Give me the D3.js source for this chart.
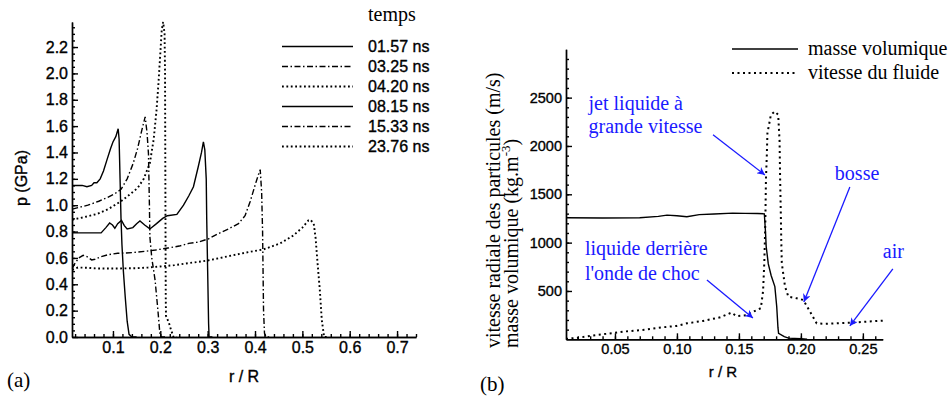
<!DOCTYPE html>
<html>
<head>
<meta charset="utf-8">
<script src="https://cdn.jsdelivr.net/npm/d3@7"></script>
<style>
body { margin: 0; background: #fff; }
svg { display: block; background: #fff; }
.axis path, .axis line { stroke: #000; stroke-width: 1.4; }
.axis text { fill: #000; stroke: #000; stroke-width: 0.35; font-family: "Liberation Sans", Arial, sans-serif; }
.sans { font-family: "Liberation Sans", Arial, sans-serif; fill: #000; stroke: #000; stroke-width: 0.35; }
.serif { font-family: "Liberation Serif", "Times New Roman", serif; fill: #000; }
.note { fill: #1a1aff; font-family: "Liberation Serif", "Times New Roman", serif; font-size: 20px; }
.arrow { stroke: #1a1aff; stroke-width: 1.3; fill: none; }
</style>
</head>
<body>
<svg id="chart" width="952" height="405"></svg>
<script>

// ---- panel (a) : pressure profiles, p (GPa) vs r/R ----
var seriesNames = ["01.57 ns", "03.25 ns", "04.20 ns", "08.15 ns", "15.33 ns", "23.76 ns"];
var seriesStyles = ["solid", "dashdot", "dot", "solid", "dashdot", "dot"];

var p0157 = [[0.014,1.15],[0.035,1.15],[0.045,1.14],[0.055,1.15],[0.06,1.17],[0.066,1.17],[0.073,1.2],[0.08,1.26],
    [0.087,1.34],[0.095,1.43],[0.1,1.48],[0.106,1.52],[0.111,1.58],[0.113,1.5],[0.115,1.2],[0.117,0.9],[0.119,0.7],
    [0.122,0.5],[0.126,0.3],[0.13,0.12],[0.134,0.02],[0.14,0],[0.15,0]];
var p0325 = [[0.014,0.97],[0.03,0.985],[0.047,1.0],[0.07,1.03],[0.089,1.06],[0.105,1.09],[0.117,1.12],[0.13,1.2],
    [0.143,1.32],[0.152,1.43],[0.161,1.57],[0.168,1.67],[0.172,1.55],[0.175,1.39],[0.177,1.0],[0.178,0.76],
    [0.182,0.6],[0.189,0.43],[0.195,0.2],[0.199,0.03],[0.203,0],[0.21,0]];
var p0420 = [[0.014,0.89],[0.04,0.91],[0.068,0.935],[0.09,0.97],[0.117,1.03],[0.135,1.08],[0.152,1.13],[0.165,1.2],
    [0.178,1.32],[0.186,1.5],[0.192,1.72],[0.196,1.92],[0.2,2.15],[0.203,2.33],[0.206,2.39],[0.209,2.3],[0.21,2.0],
    [0.2105,1.4],[0.211,0.8],[0.2115,0.3],[0.212,0.16],[0.218,0.11],[0.223,0.05],[0.228,0],[0.235,0]];
var p0815 = [[0.014,0.79],[0.04,0.79],[0.075,0.79],[0.085,0.83],[0.093,0.865],[0.099,0.85],[0.104,0.825],[0.11,0.86],
    [0.118,0.885],[0.124,0.845],[0.13,0.82],[0.142,0.83],[0.15,0.86],[0.157,0.88],[0.167,0.85],[0.178,0.82],
    [0.192,0.86],[0.205,0.9],[0.215,0.92],[0.235,0.93],[0.249,1.0],[0.26,1.07],[0.27,1.14],[0.28,1.29],[0.287,1.4],
    [0.291,1.48],[0.294,1.42],[0.297,1.2],[0.298,0.9],[0.3,0.5],[0.302,0.1],[0.303,0],[0.31,0]];
var p1533 = [[0.014,0.52],[0.02,0.56],[0.028,0.6],[0.037,0.62],[0.045,0.61],[0.055,0.585],[0.062,0.59],[0.075,0.61],
    [0.09,0.625],[0.11,0.635],[0.14,0.64],[0.167,0.65],[0.19,0.66],[0.216,0.675],[0.24,0.69],[0.26,0.71],[0.28,0.72],
    [0.302,0.745],[0.32,0.78],[0.344,0.82],[0.365,0.86],[0.379,0.92],[0.39,1.03],[0.4,1.15],[0.407,1.23],[0.411,1.27],
    [0.414,1.1],[0.416,0.8],[0.417,0.5],[0.418,0.2],[0.42,0.03],[0.423,0],[0.43,0]];
var p2376 = [[0.014,0.51],[0.026,0.527],[0.045,0.525],[0.068,0.52],[0.11,0.52],[0.15,0.522],[0.174,0.527],[0.2,0.535],
    [0.23,0.545],[0.259,0.56],[0.3,0.58],[0.34,0.61],[0.38,0.64],[0.418,0.665],[0.453,0.71],[0.481,0.77],[0.5,0.83],
    [0.513,0.885],[0.517,0.89],[0.524,0.86],[0.528,0.75],[0.531,0.61],[0.537,0.35],[0.541,0.13],[0.546,0],[0.555,0]];
var seriesA = [p0157, p0325, p0420, p0815, p1533, p2376];

var xTicksA = [0.1, 0.2, 0.3, 0.4, 0.5, 0.6, 0.7];
var yTicksA = [0.0, 0.2, 0.4, 0.6, 0.8, 1.0, 1.2, 1.4, 1.6, 1.8, 2.0, 2.2];

// ---- panel (b) : density and fluid velocity vs r/R ----
var rhoB = [[0.0105,1258],[0.04,1255],[0.07,1257],[0.085,1272],[0.092,1285],[0.1,1278],[0.108,1268],[0.118,1290],
    [0.13,1296],[0.145,1305],[0.155,1303],[0.165,1302],[0.1705,1298],[0.1715,1100],[0.172,960],[0.1737,780],
    [0.176,660],[0.179,545],[0.1805,340],[0.1815,120],[0.182,62],[0.1866,28],[0.19,12],[0.2,5],[0.205,0]];
var velB = [[0.0105,5],[0.02,15],[0.0325,40],[0.048,64],[0.059,82],[0.075,100],[0.089,125],[0.0998,138],[0.108,165],
    [0.121,190],[0.135,228],[0.144,276],[0.148,240],[0.156,250],[0.164,300],[0.1677,322],[0.1695,500],[0.1705,800],
    [0.1713,1200],[0.1718,1650],[0.1725,1900],[0.173,2132],[0.1758,2322],[0.179,2356],[0.1817,2322],[0.1828,2050],
    [0.1832,1700],[0.1838,1300],[0.1842,1000],[0.1846,787],[0.1872,545],[0.1899,441],[0.1966,424],[0.202,407],
    [0.2074,286],[0.2127,165],[0.22,160],[0.2398,172],[0.266,193]];
var legendB = ["masse volumique", "vitesse du fluide"];

var xTicksB = [0.05, 0.10, 0.15, 0.20, 0.25];
var yTicksB = [500, 1000, 1500, 2000, 2500];

// annotations (text lines and arrows, in data units of panel b)
var noteTexts = [
    {lines: ["jet liquide à", "grande vitesse"], r: 0.0287, v: [2373, 2135]},
    {lines: ["liquide derrière", "l'onde de choc"], r: 0.0258, v: [873, 614]},
    {lines: ["bosse"], r: 0.2274, v: [1649]},
    {lines: ["air"], r: 0.2661, v: [841]}
];
var noteArrows = [
    [[0.1291, 2115], [0.1710, 1700]],
    [[0.1242, 614], [0.1613, 220]],
    [[0.2395, 1576], [0.2024, 386]],
    [[0.2742, 728], [0.2395, 138]]
];

var dashes = { solid: null, dashdot: "6,2.5,1.5,2.5", dot: "1.8,2.6" };

var svg = d3.select("#chart");

// ================= panel (a) =================
var xA = d3.scaleLinear().domain([0.0135, 0.74]).range([72, 416]);
var yA = d3.scaleLinear().domain([0, 2.39]).range([337, 22]);

function drawAxes(x, y, xt, yt, xminor, yminor, fmtX, fmtY, fs, padX) {
    var y0 = y.range()[0], x0 = x.range()[0];
    svg.append("g").attr("class", "axis")
        .attr("transform", "translate(0," + y0 + ")")
        .call(d3.axisBottom(x).tickValues(xminor).tickSizeInner(-3).tickSizeOuter(0).tickFormat(""));
    svg.append("g").attr("class", "axis")
        .attr("transform", "translate(" + x0 + ",0)")
        .call(d3.axisLeft(y).tickValues(yminor).tickSizeInner(-3).tickSizeOuter(0).tickFormat(""));
    svg.append("g").attr("class", "axis")
        .attr("transform", "translate(0," + y0 + ")")
        .call(d3.axisBottom(x).tickValues(xt).tickSizeInner(-6).tickSizeOuter(0).tickPadding(padX).tickFormat(fmtX))
        .attr("font-size", fs).attr("font-family", null);
    svg.append("g").attr("class", "axis")
        .attr("transform", "translate(" + x0 + ",0)")
        .call(d3.axisLeft(y).tickValues(yt).tickSizeInner(-6).tickSizeOuter(0).tickPadding(4).tickFormat(fmtY))
        .attr("font-size", fs).attr("font-family", null);
}

drawAxes(xA, yA, xTicksA, yTicksA,
    d3.range(0.02, 0.741, 0.02), d3.range(0.05, 2.37, 0.05),
    d3.format(".1f"), d3.format(".1f"), 16, 5);

var lineA = d3.line().x(function(d) { return xA(d[0]); }).y(function(d) { return yA(d[1]); });

seriesA.forEach(function(s, i) {
    var st = seriesStyles[i];
    svg.append("path")
        .datum(s)
        .attr("d", lineA)
        .attr("fill", "none")
        .attr("stroke", "#000")
        .attr("stroke-width", st === "dot" ? 1.9 : 1.4)
        .attr("stroke-dasharray", dashes[st]);
});

// legend (a)
svg.append("text").attr("class", "serif").attr("x", 368).attr("y", 21)
    .attr("font-size", 20).text("temps");
seriesNames.forEach(function(name, i) {
    var yy = 51.5 + i * 20;
    var st = seriesStyles[i];
    svg.append("line")
        .attr("x1", 282).attr("x2", 353).attr("y1", yy - 5).attr("y2", yy - 5)
        .attr("stroke", "#000")
        .attr("stroke-width", st === "dot" ? 1.9 : 1.4)
        .attr("stroke-dasharray", dashes[st]);
    svg.append("text").attr("class", "sans").attr("x", 368).attr("y", yy)
        .attr("font-size", 16).text(name);
});

// axis titles (a)
svg.append("text").attr("class", "sans")
    .attr("transform", "translate(27,178) rotate(-90)")
    .attr("text-anchor", "middle").attr("font-size", 16).text("p (GPa)");
svg.append("text").attr("class", "sans")
    .attr("x", 244).attr("y", 382).attr("text-anchor", "middle")
    .attr("font-size", 16).text("r / R");
svg.append("text").attr("class", "serif").attr("x", 7).attr("y", 387)
    .attr("font-size", 21).text("(a)");

// ================= panel (b) =================
var xB = d3.scaleLinear().domain([0.0105, 0.266]).range([566, 882.7]);
var yB = d3.scaleLinear().domain([0, 3000]).range([339.3, 49.3]);

drawAxes(xB, yB, xTicksB, yTicksB,
    d3.range(0.02, 0.2661, 0.01), d3.range(100, 2950, 100),
    d3.format(".2f"), d3.format("d"), 14.5, 4);

var lineB = d3.line().x(function(d) { return xB(d[0]); }).y(function(d) { return yB(d[1]); });

svg.append("path").datum(rhoB).attr("d", lineB)
    .attr("fill", "none").attr("stroke", "#000").attr("stroke-width", 1.4);
svg.append("path").datum(velB).attr("d", lineB)
    .attr("fill", "none").attr("stroke", "#000").attr("stroke-width", 2)
    .attr("stroke-dasharray", "2,3.5");

// legend (b)
legendB.forEach(function(name, i) {
    var yy = 55 + i * 24;
    svg.append("line")
        .attr("x1", 732).attr("x2", 798).attr("y1", yy - 6).attr("y2", yy - 6)
        .attr("stroke", "#000")
        .attr("stroke-width", i === 0 ? 1.4 : 2)
        .attr("stroke-dasharray", i === 0 ? null : "2,3.5");
    svg.append("text").attr("class", "serif").attr("x", 808).attr("y", yy)
        .attr("font-size", 20).text(name);
});

// axis titles (b)
var yl = svg.append("g").attr("class", "serif").attr("font-size", 20);
yl.append("text")
    .attr("transform", "translate(500,348) rotate(-90)")
    .text("vitesse radiale des particules (m/s)");
var yl2 = yl.append("text")
    .attr("transform", "translate(518,348) rotate(-90)");
yl2.append("tspan").text("masse volumique (kg.m");
yl2.append("tspan").attr("font-size", 13).attr("dy", -8).text("-3");
yl2.append("tspan").attr("dy", 8).text(")");

svg.append("text").attr("class", "sans")
    .attr("x", 723).attr("y", 377).attr("text-anchor", "middle")
    .attr("font-size", 15).text("r / R");
svg.append("text").attr("class", "serif").attr("x", 480).attr("y", 391)
    .attr("font-size", 21).text("(b)");

// annotations
var defs = svg.append("defs");
defs.append("marker")
    .attr("id", "head").attr("viewBox", "0 0 10 10")
    .attr("refX", 10).attr("refY", 5)
    .attr("markerWidth", 10).attr("markerHeight", 8)
    .attr("markerUnits", "userSpaceOnUse")
    .attr("orient", "auto")
    .append("path").attr("d", "M0,0 L10,5 L0,10 L3,5 Z").attr("fill", "#1a1aff");

noteTexts.forEach(function(n) {
    n.lines.forEach(function(t, j) {
        svg.append("text").attr("class", "note")
            .attr("x", xB(n.r)).attr("y", yB(n.v[j])).text(t);
    });
});
noteArrows.forEach(function(a) {
    svg.append("line").attr("class", "arrow")
        .attr("x1", xB(a[0][0])).attr("y1", yB(a[0][1]))
        .attr("x2", xB(a[1][0])).attr("y2", yB(a[1][1]))
        .attr("marker-end", "url(#head)");
});

</script>
</body>
</html>
